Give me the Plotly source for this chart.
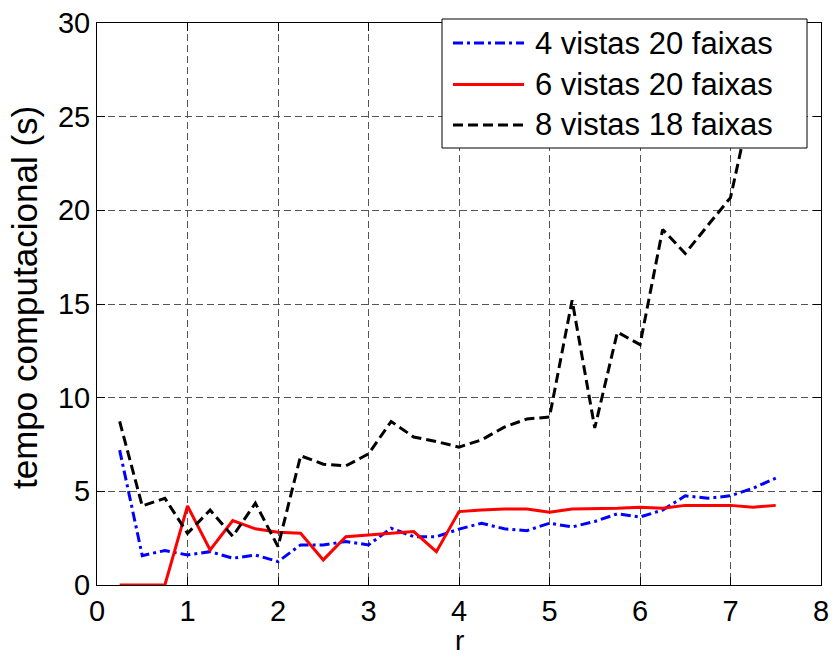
import plotly.graph_objects as go

# r values (horizontal axis)
r = [0.25, 0.5, 0.75, 1.0, 1.25, 1.5, 1.75, 2.0, 2.25, 2.5, 2.75, 3.0, 3.25, 3.5, 3.75,
     4.0, 4.25, 4.5, 4.75, 5.0, 5.25, 5.5, 5.75, 6.0, 6.25, 6.5, 6.75, 7.0, 7.25, 7.5]

# computation time (s) for each configuration
t_4v20f = [7.2, 1.57, 1.84, 1.6, 1.78, 1.43, 1.6, 1.25, 2.14, 2.14, 2.32, 2.14, 3.03, 2.58, 2.58,
           2.98, 3.3, 3.0, 2.9, 3.3, 3.1, 3.39, 3.8, 3.63, 4.0, 4.76, 4.63, 4.76, 5.17, 5.7]
t_6v20f = [0.0, 0.0, 0.0, 4.22, 1.87, 3.44, 3.0, 2.82, 2.76, 1.34, 2.58, 2.67, 2.76, 2.85, 1.78,
           3.92, 4.0, 4.06, 4.06, 3.89, 4.06, 4.06, 4.1, 4.15, 4.1, 4.25, 4.25, 4.25, 4.15, 4.25]
t_8v18f = [8.73, 4.22, 4.63, 2.76, 4.0, 2.6, 4.37, 2.05, 6.9, 6.45, 6.36, 7.0, 8.73, 7.9, 7.66,
           7.36, 7.75, 8.43, 8.86, 8.97, 15.2, 8.38, 13.5, 12.83, 18.98, 17.7, 19.2, 20.68, 26.2, 29.1]

series_names = ["4 vistas 20 faixas", "6 vistas 20 faixas", "8 vistas 18 faixas"]
series_data = [t_4v20f, t_6v20f, t_8v18f]
series_colors = ["#0000ff", "#ff0000", "#000000"]
series_dash = ["10px,4px,3px,4px", "solid", "10px,5px"]

x_title = "r"
y_title = "tempo computacional (s)"

FONT = "Liberation Sans, Arial, sans-serif"
W, H = 836, 657
ML, MR, MT, MB = 97, 15, 23, 72
PW, PH = W - ML - MR, H - MT - MB


def px_x(p):
    """pixel column -> paper x"""
    return (p - ML) / PW


def px_y(p):
    """pixel row -> paper y"""
    return (H - MB - p) / PH


fig = go.Figure()
for name, ys, col, dash in zip(series_names, series_data, series_colors, series_dash):
    fig.add_trace(go.Scatter(x=r, y=ys, mode="lines", name=name, showlegend=False,
                             line=dict(color=col, width=3, dash=dash)))

axis_common = dict(
    showline=True, linecolor="black", linewidth=1, mirror="ticks",
    ticks="inside", ticklen=8, tickcolor="black", tickwidth=1,
    showgrid=True, gridcolor="#555555", griddash="7px,4px", gridwidth=1,
    zeroline=False, automargin=False,
    tickfont=dict(family=FONT, size=29, color="black"),
)

fig.update_xaxes(range=[0, 8], dtick=1, tick0=0, **axis_common)
fig.update_yaxes(range=[0, 30], dtick=5, tick0=0, **axis_common)

# axis titles
annotations = [
    dict(xref="paper", yref="paper", x=0.5, y=px_y(657), xanchor="center", yanchor="bottom",
         showarrow=False, borderpad=0, text=x_title,
         font=dict(family=FONT, size=28, color="black")),
    dict(xref="paper", yref="paper", x=px_x(24), y=px_y(298), xanchor="center", yanchor="middle",
         showarrow=False, text=y_title, textangle=-90,
         font=dict(family=FONT, size=35, color="black")),
]

# boxed legend in the upper right corner (opaque, covers the lines behind it)
shapes = [dict(type="rect", xref="paper", yref="paper", layer="above",
               x0=px_x(442), x1=px_x(807), y0=px_y(148), y1=px_y(19),
               fillcolor="white", line=dict(color="black", width=1))]
row_y = [43, 84.5, 125]
for name, col, dash, yy in zip(series_names, series_colors, series_dash, row_y):
    shapes.append(dict(type="line", xref="paper", yref="paper", layer="above",
                       x0=px_x(453), x1=px_x(524), y0=px_y(yy), y1=px_y(yy),
                       line=dict(color=col, width=3, dash=dash)))
    annotations.append(dict(xref="paper", yref="paper", x=px_x(533), y=px_y(yy),
                            xanchor="left", yanchor="middle", showarrow=False,
                            text=name, font=dict(family=FONT, size=31, color="black")))

fig.update_layout(
    width=W, height=H,
    margin=dict(l=ML, r=MR, t=MT, b=MB),
    paper_bgcolor="white", plot_bgcolor="white",
    font=dict(family=FONT, size=29, color="black"),
    showlegend=False,
    shapes=shapes,
    annotations=annotations,
)

fig.write_html("out.html")
